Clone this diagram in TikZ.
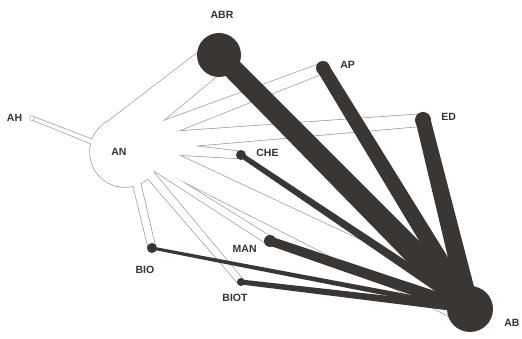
\documentclass[tikz,border=0pt]{standalone}
\usepackage{fontspec}
\setmainfont{Liberation Sans}
\usepackage{tikz}
\definecolor{dark}{HTML}{3A3634}
\definecolor{rim}{HTML}{9C9C9C}
\definecolor{ink}{HTML}{333333}
\usetikzlibrary{calc}
\usetikzlibrary{positioning}
\usetikzlibrary{backgrounds}

\begin{document}
\begin{tikzpicture}
    [
    x=1pt, y=1pt, font=\fontsize{10.5}{12}\selectfont\bfseries,
    %Voreinstellungen
    dot/.style={circle, fill=dark, inner sep=0pt},
    hub/.style={circle, minimum size=70pt, inner sep=0pt},
    lbl/.style={text=ink, inner sep=0pt},
    spoke/.style={draw=rim, line width=1.4pt, line join=round},
    link/.style={fill=dark}
    ]
    
    \useasboundingbox (0,0) rectangle (522,339);
    
    %AN
    \node[hub, label={[lbl,xshift=-6pt]center:AN}] (AN) at (125,187) {};
    
    %AH
    \node[circle, draw=rim, fill=white, inner sep=0pt, minimum size=5pt,
    label={[lbl, label distance=7pt]left:AH}] (AH) at (32,221) {};
    
    %dunkle Knoten
    \node[dot, minimum size=44pt, label={[lbl, label distance=14pt, xshift=3pt]above:ABR}] (ABR) at (219,284) {};
    \node[dot, minimum size=14pt, label={[lbl, label distance=10pt, yshift=3pt]right:AP}] (AP) at (323,271) {};
    \node[dot, minimum size=16pt, label={[lbl, label distance=10pt, yshift=3pt]right:ED}] (ED) at (423,219) {};
    \node[dot, minimum size=10pt, label={[lbl, label distance=10pt, yshift=2pt]right:CHE}] (CHE) at (241,184) {};
    \node[dot, minimum size=12pt, label={[lbl, label distance=7pt, yshift=-8pt]left:MAN}] (MAN) at (270,98) {};
    \node[dot, minimum size=10pt, label={[lbl, label distance=13pt, xshift=-7pt]below:BIO}] (BIO) at (152,91) {};
    \node[dot, minimum size=8pt, label={[lbl, label distance=8pt, xshift=-6pt]below:BIOT}] (BIOT) at (241,57) {};
    \node[dot, minimum size=46pt, label={[lbl, label distance=11pt, yshift=-14pt]right:AB}] (AB) at (470,30) {};
    
    \begin{pgfonlayer}{background}
    %Keile von AN, erst Rand dann weiss
    \foreach \t/\w/\r in {AH/5pt/1.5pt, ABR/35pt/15pt, AP/16pt/5pt, ED/17pt/6pt, CHE/14pt/3.5pt,
      AB/20pt/16pt, MAN/5pt/4pt, BIOT/9pt/3pt, BIO/8pt/3.5pt}
    \draw[spoke] (AN.center) -- ($(\t.center)!\r!90:(AN.center)$) -- ($(\t.center)!\r!-90:(AN.center)$)
      -- ($(AN.center)!\w!90:(\t.center)$) -- cycle;
    \draw[spoke] (AN.center) circle (35pt);
    
    \foreach \t/\w/\r in {AH/5pt/1.5pt, ABR/35pt/15pt, AP/16pt/5pt, ED/17pt/6pt, CHE/14pt/3.5pt,
      AB/20pt/16pt, MAN/5pt/4pt, BIOT/9pt/3pt, BIO/8pt/3.5pt}
    \fill[white] (AN.center) -- ($(\t.center)!\r!90:(AN.center)$) -- ($(\t.center)!\r!-90:(AN.center)$)
      -- ($(AN.center)!\w!90:(\t.center)$) -- cycle;
    \fill[white] (AN.center) circle (35pt);
    
    %Kanten nach AB
    \foreach \s/\a/\b in {ABR/10pt/12pt, AP/6.5pt/8.5pt, ED/7.5pt/9.5pt, CHE/2.5pt/5pt,
      MAN/4.5pt/6pt, BIOT/2.5pt/4pt, BIO/1.5pt/3pt}
    \fill[link] ($(\s.center)!\a!90:(AB.center)$) -- ($(AB.center)!\b!-90:(\s.center)$)
      -- ($(AB.center)!\b!90:(\s.center)$) -- ($(\s.center)!\a!-90:(AB.center)$) -- cycle;
    \end{pgfonlayer}
\end{tikzpicture}
\end{document}
